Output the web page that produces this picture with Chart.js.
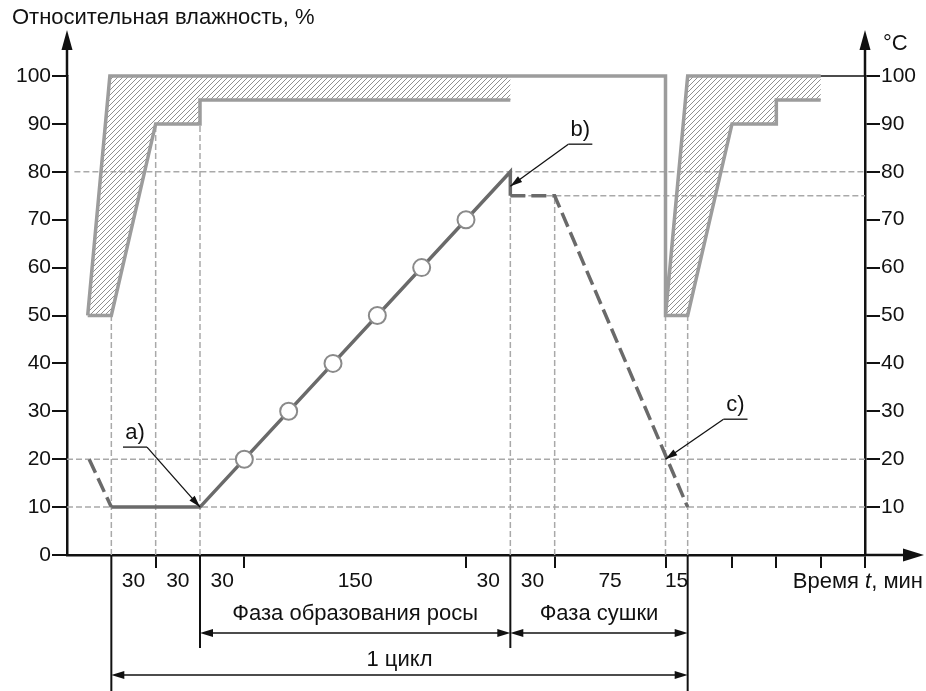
<!DOCTYPE html>
<html>
<head>
<meta charset="utf-8">
<script src="https://cdn.jsdelivr.net/npm/chart.js@4.4.1/dist/chart.umd.min.js"></script>
<style>
html,body{margin:0;padding:0;background:#fff}
canvas{display:block}
</style>
</head>
<body>
<canvas id="myChart" width="926" height="691"></canvas>
<script>
// time in minutes, 0 = left axis
const yTicks = [0,10,20,30,40,50,60,70,80,90,100];
const yTicksRight = [10,20,30,40,50,60,70,80,90,100];
const xTickMarks = [60,120,270,330,405,450,480,510,540];
const intervalEdges = [30,60,90,120,270,300,330,405,420];
const intervalLabels = ['30','30','30','150','30','30','75','15'];
const phases = [[90,300,'Фаза образования росы'],[300,420,'Фаза сушки']];
const cycle = [30,420,'1 цикл'];

// humidity limits (light grey outline)
const humOuter = [[14,50],[29,100],[405,100],[405,50],[420,50],[450,90],[480,90],[480,95],[510,95]];
const humInner = [[14,50],[30,50],[60,90],[90,90],[90,95],[300,95]];
const humRight = [[405,50],[420,100],[510,100]];
const hatchLeft = [[14,50],[29,100],[300,100],[300,95],[90,95],[90,90],[60,90],[30,50]];
const hatchRight = [[405,50],[420,100],[510,100],[510,95],[480,95],[480,90],[450,90],[420,50]];
const rightLimit = [[510,100],[540,100]];

// temperature
const tempSolid = [[30,10],[90,10],[300,80],[300,75]];
const tempDashed1 = [[15,20],[30,10]];
const tempDashed2 = [[300,75],[330,75],[420,10]];
const tempMarks = [[120,20],[150,30],[180,40],[210,50],[240,60],[270,70]];

// dashed guides: [value, from, to]
const guideH = [[10,0,540],[20,0,540],[80,5,540],[75,300,540]];
const guideV = [[30,0,50],[60,0,90],[90,0,95],[300,0,75],[330,0,75],[405,0,50],[420,0,50]];

// callouts: label, target point
const callouts = [['a)',90,10],['b)',300,77],['c)',405,20]];

const FONT = '"Liberation Sans", Arial, sans-serif';

function pts(arr){ return arr.map(p => ({x:p[0], y:p[1]})); }
function guidePts(){
  let out = [];
  guideH.forEach(g => { out.push({x:g[1],y:g[0]},{x:g[2],y:g[0]},{x:g[2],y:null}); });
  guideV.forEach(g => { out.push({x:g[0],y:g[1]},{x:g[0],y:g[2]},{x:g[0],y:null}); });
  return out;
}
function joinPts(list){
  let out = [];
  list.forEach(l => { out = out.concat(pts(l)); out.push({x:l[l.length-1][0], y:null}); });
  return out;
}
function hatch(){
  const c = document.createElement('canvas');
  c.width = 5; c.height = 5;
  const g = c.getContext('2d');
  g.strokeStyle = '#8e8e8e';
  g.lineWidth = 1;
  g.beginPath(); g.moveTo(-1,6); g.lineTo(6,-1); g.stroke();
  g.beginPath(); g.moveTo(-1,1); g.lineTo(1,-1); g.stroke();
  g.beginPath(); g.moveTo(4,6); g.lineTo(6,4); g.stroke();
  return g.createPattern(c,'repeat');
}

function line(ctx,x1,y1,x2,y2){ ctx.beginPath(); ctx.moveTo(x1,y1); ctx.lineTo(x2,y2); ctx.stroke(); }
function head(ctx,tx,ty,fx,fy,len,w){
  const a = Math.atan2(ty-fy, tx-fx);
  ctx.beginPath();
  ctx.moveTo(tx,ty);
  ctx.lineTo(tx-len*Math.cos(a)+w*Math.sin(a), ty-len*Math.sin(a)-w*Math.cos(a));
  ctx.lineTo(tx-len*Math.cos(a)-w*Math.sin(a), ty-len*Math.sin(a)+w*Math.cos(a));
  ctx.closePath();
  ctx.fill();
}

const overlay = {
  id: 'overlay',
  afterDraw(chart){
    const ctx = chart.ctx;
    const xs = chart.scales.x, ys = chart.scales.y;
    const px = v => xs.getPixelForValue(v), py = v => ys.getPixelForValue(v);
    const x0 = px(0), x1 = px(540), yb = py(0), yt = py(100);
    ctx.save();
    ctx.strokeStyle = '#111';
    ctx.fillStyle = '#111';
    // axis arrows
    ctx.lineWidth = 2.5;
    line(ctx,x0,yt,x0,48); head(ctx,x0,30,x0,60,20,5.5);
    line(ctx,x1,yt,x1,48); head(ctx,x1,30,x1,60,20,5.5);
    line(ctx,x1,yb,905,yb); head(ctx,924,yb,880,yb,21,6.5);

    // boundaries below the time axis
    ctx.lineWidth = 2;
    const rowA = yb+78, rowB = yb+120;
    line(ctx,px(phases[0][0]),yb,px(phases[0][0]),rowA+15);
    line(ctx,px(phases[0][1]),yb,px(phases[0][1]),rowA+15);
    line(ctx,px(cycle[0]),yb,px(cycle[0]),chart.height);
    line(ctx,px(cycle[1]),yb,px(cycle[1]),chart.height);

    ctx.font = '21px ' + FONT;
    ctx.textAlign = 'center';
    ctx.textBaseline = 'middle';
    for (let i = 0; i < intervalLabels.length; i++){
      ctx.fillText(intervalLabels[i], (px(intervalEdges[i])+px(intervalEdges[i+1]))/2, yb+26);
    }
    ctx.font = '22px ' + FONT;
    ctx.lineWidth = 1.6;
    const dim = (a,b,y,label,ly) => {
      const xa = px(a), xb = px(b);
      line(ctx,xa+4,y,xb-4,y);
      head(ctx,xa,y,xb,y,13,4);
      head(ctx,xb,y,xa,y,13,4);
      ctx.fillText(label,(xa+xb)/2,ly);
    };
    phases.forEach(p => dim(p[0],p[1],rowA,p[2],yb+59));
    dim(cycle[0],cycle[1],rowB,cycle[2],yb+105);

    // callouts
    const offs = {'a)':[-65,-74,1], 'b)':[70,-56,-1], 'c)':[70,-54,-1]};
    ctx.lineWidth = 1.3;
    callouts.forEach(c => {
      const tx = px(c[1]), ty = py(c[2]);
      const o = offs[c[0]];
      const lx = tx+o[0], ly = ty+o[1];
      ctx.fillText(c[0], lx, ly);
      line(ctx,lx-12,ly+14,lx+12,ly+14);
      const sx = lx+12*o[2], sy = ly+14;
      line(ctx,sx,sy,tx,ty);
      head(ctx,tx,ty,sx,sy,12,3.5);
    });

    // titles
    ctx.textAlign = 'left';
    ctx.fillText('Относительная влажность, %', 12, 18);
    ctx.fillText('°C', 883, 44);
    // "Время t, мин" right aligned
    const p1 = 'Время ', p2 = 't', p3 = ', мин';
    const w1 = ctx.measureText(p1).width, w3 = ctx.measureText(p3).width;
    ctx.font = 'italic 22px ' + FONT;
    const w2 = ctx.measureText(p2).width;
    let sx = 923 - w1 - w2 - w3;
    ctx.font = '22px ' + FONT;
    ctx.fillText(p1, sx, yb+27);
    ctx.font = 'italic 22px ' + FONT;
    ctx.fillText(p2, sx+w1, yb+27);
    ctx.font = '22px ' + FONT;
    ctx.fillText(p3, sx+w1+w2, yb+27);
    ctx.restore();
  }
};

const axisGrid = {display:true, drawOnChartArea:false, drawTicks:true, tickLength:15, color:'#111', lineWidth:2};
const axisBorder = {display:true, color:'#111', width:2.5};
const yTickOpts = {padding:1, color:'#111', font:{family:FONT, size:21}};

const base = {xAxisID:'x', yAxisID:'y', pointRadius:0, tension:0, clip:false, spanGaps:false, fill:false};
const pattern = hatch();

const ctx = document.getElementById('myChart').getContext('2d');
const myChart = new Chart(ctx, {
  type: 'line',
  data: {
    datasets: [
      Object.assign({}, base, {label:'guides', data:guidePts(), borderColor:'#a9a9a9', borderWidth:1.5, borderDash:[6,3], order:9}),
      Object.assign({}, base, {label:'hatchL', data:pts(hatchLeft), borderColor:'rgba(0,0,0,0)', borderWidth:1, fill:'shape', backgroundColor:pattern, order:8}),
      Object.assign({}, base, {label:'hatchR', data:pts(hatchRight), borderColor:'rgba(0,0,0,0)', borderWidth:1, fill:'shape', backgroundColor:pattern, order:8}),
      Object.assign({}, base, {label:'humidity', data:joinPts([humOuter,humInner,humRight]), borderColor:'#9c9c9c', borderWidth:3.5, borderJoinStyle:'miter', order:7}),
      Object.assign({}, base, {label:'limit', data:pts(rightLimit), borderColor:'#111', borderWidth:1.5, order:6}),
      Object.assign({}, base, {label:'tempDashed', data:joinPts([tempDashed1,tempDashed2]), borderColor:'#6a6a6a', borderWidth:3.5, borderDash:[15,6], order:5}),
      Object.assign({}, base, {label:'temp', data:pts(tempSolid), borderColor:'#6a6a6a', borderWidth:3.5, order:4}),
      Object.assign({}, base, {label:'marks', data:pts(tempMarks), showLine:false, pointRadius:8.5, pointBackgroundColor:'#fff', pointBorderColor:'#8a8a8a', pointBorderWidth:2, order:3})
    ]
  },
  options: {
    responsive: false,
    animation: false,
    events: [],
    layout: {padding:{top:76, left:0, right:0, bottom:0}},
    plugins: {legend:{display:false}, tooltip:{enabled:false}},
    scales: {
      x: {
        type:'linear', min:0, max:540,
        afterBuildTicks: s => { s.ticks = xTickMarks.map(v => ({value:v})); },
        afterFit: s => { s.height = 136; },
        ticks: {display:false},
        grid: Object.assign({}, axisGrid, {tickLength:13}),
        border: axisBorder
      },
      y: {
        position:'left', min:0, max:100,
        afterBuildTicks: s => { s.ticks = yTicks.map(v => ({value:v})); },
        afterFit: s => { s.width = 67; },
        ticks: yTickOpts, grid: axisGrid, border: axisBorder
      },
      y2: {
        position:'right', min:0, max:100,
        afterBuildTicks: s => { s.ticks = yTicksRight.map(v => ({value:v})); },
        afterFit: s => { s.width = 61; },
        ticks: yTickOpts, grid: axisGrid, border: axisBorder
      }
    }
  },
  plugins: [overlay]
});
</script>
</body>
</html>
